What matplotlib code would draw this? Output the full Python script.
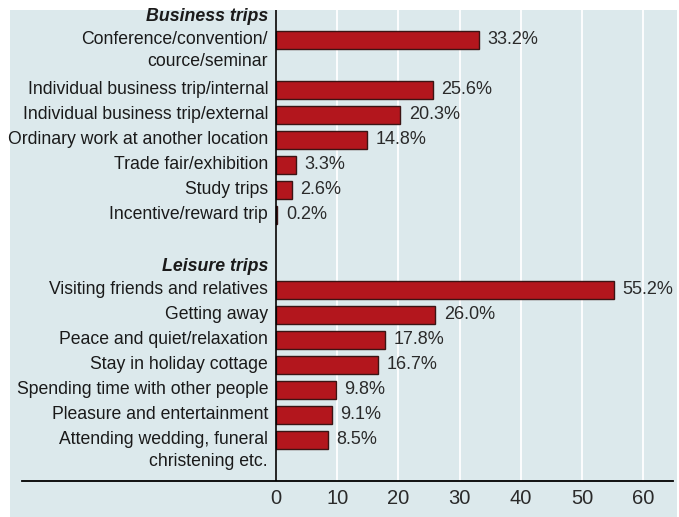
import matplotlib.pyplot as plt
from matplotlib.patches import Rectangle

plt.rcParams['font.family'] = ['Liberation Sans', 'DejaVu Sans']

# Business trips
business_labels = [
    'Conference/convention/\ncource/seminar',
    'Individual business trip/internal',
    'Individual business trip/external',
    'Ordinary work at another location',
    'Trade fair/exhibition',
    'Study trips',
    'Incentive/reward trip',
]
business_values = [33.2, 25.6, 20.3, 14.8, 3.3, 2.6, 0.2]

# Leisure trips
leisure_labels = [
    'Visiting friends and relatives',
    'Getting away',
    'Peace and quiet/relaxation',
    'Stay in holiday cottage',
    'Spending time with other people',
    'Pleasure and entertainment',
    'Attending wedding, funeral\nchristening etc.',
]
leisure_values = [55.2, 26.0, 17.8, 16.7, 9.8, 9.1, 8.5]

groups = [('Business trips', business_labels, business_values),
          ('Leisure trips', leisure_labels, leisure_values)]

xticks = [0, 10, 20, 30, 40, 50, 60]

bar_color = '#b3161d'
edge_color = '#3b1414'
panel_color = '#dce9ec'
text_color = '#1a1a1a'

W, H = 679, 517
fig = plt.figure(figsize=(W / 100, H / 100), dpi=100)
fig.patches.append(Rectangle((10 / W, 0), (677 - 10) / W, (517 - 10) / H,
                             transform=fig.transFigure, facecolor=panel_color,
                             edgecolor='none', zorder=-10))

ax = fig.add_axes([22 / W, (H - 481) / H, (673 - 22) / W, (481 - 10) / H])
ax.set_facecolor('none')

row = 0
for header, labels, values in groups:
    ax.text(-1.3, row + 0.05, header, ha='right', va='center', fontsize=12.8,
            fontweight='bold', fontstyle='italic', color=text_color)
    row += 1
    for lab, val in zip(labels, values):
        ax.barh(row, val, height=0.7, color=bar_color, edgecolor=edge_color,
                linewidth=1.0, zorder=3)
        ax.text(val + 1.4, row, f'{val:.1f}%', ha='left', va='center',
                fontsize=13, color='#2a2a2a', zorder=4)
        for i, line in enumerate(lab.split('\n')):
            ax.text(-1.3, row + i * 0.88, line, ha='right', va='center',
                    fontsize=12.7, color=text_color)
        row += 1 + lab.count('\n')
    row += 1

ax.set_ylim(18.64, -0.2)
ax.set_xlim(-41.5, 64.87)
ax.axvline(0, color='black', linewidth=1.2, zorder=5)

ax.set_xticks(xticks)
ax.set_xticklabels([str(t) for t in xticks], fontsize=14.5, color='#2a2a2a')
ax.tick_params(axis='x', length=0, pad=6)
ax.set_yticks([])
ax.grid(axis='x', color='white', linewidth=1.3, zorder=1)
for side in ['top', 'right', 'left']:
    ax.spines[side].set_visible(False)
ax.spines['bottom'].set_color('black')
ax.spines['bottom'].set_linewidth(1.3)

fig.savefig('out.png', dpi=100)
